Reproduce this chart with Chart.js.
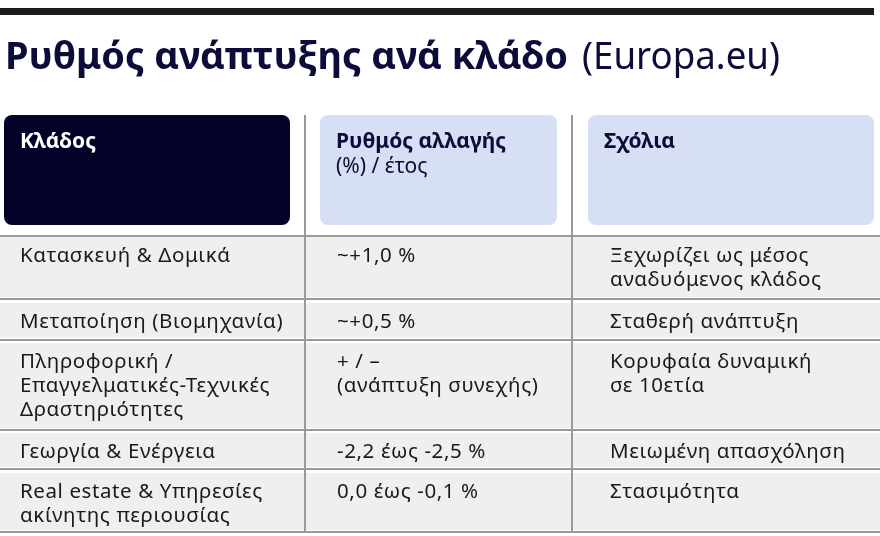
<!DOCTYPE html>
<html><head><meta charset="utf-8">
<script src="https://cdn.jsdelivr.net/npm/chart.js@4/dist/chart.umd.min.js"></script>
<style>html,body{margin:0;background:#fff}#wrap{width:880px;height:536px}</style>
</head><body><div id="wrap"><canvas id="c"></canvas></div>
<script>
const title = 'Ρυθμός ανάπτυξης ανά κλάδο';
const titleSource = '(Europa.eu)';
const headers = [['Κλάδος'], ['Ρυθμός αλλαγής', '(%) / έτος'], ['Σχόλια']];
const sectors = [
  ['Κατασκευή & Δομικά'],
  ['Μεταποίηση (Βιομηχανία)'],
  ['Πληροφορική /', 'Επαγγελματικές-Τεχνικές', 'Δραστηριότητες'],
  ['Γεωργία & Ενέργεια'],
  ['Real estate & Υπηρεσίες', 'ακίνητης περιουσίας']
];
const rates = [['~+1,0 %'], ['~+0,5 %'], ['+ / –', '(ανάπτυξη συνεχής)'], ['-2,2 έως -2,5 %'], ['0,0 έως -0,1 %']];
const comments = [
  ['Ξεχωρίζει ως μέσος', 'αναδυόμενος κλάδος'],
  ['Σταθερή ανάπτυξη'],
  ['Κορυφαία δυναμική', 'σε 10ετία'],
  ['Μειωμένη απασχόληση'],
  ['Στασιμότητα']
];

// layout (scale units = px of the 880x536 frame)
const colBounds = [[4, 290], [320, 557], [588, 874]];
const dividers = [305, 572];
const rowBounds = [[237, 297], [303, 338], [343, 428], [433, 467], [473, 530]];
const headTop = 115, headBottom = 225;

const tablePlugin = {
  id: 'table',
  afterDraw(chart) {
    const { ctx, scales: { x, y } } = chart;
    const X = v => x.getPixelForValue(v), Y = v => y.getPixelForValue(v);
    ctx.save();
    ctx.fillStyle = '#1b1b1b';
    ctx.fillRect(X(0), Y(8), X(874) - X(0), Y(15) - Y(8));
    ctx.textBaseline = 'alphabetic';
    ctx.fillStyle = '#0c0c3a';
    ctx.font = 'bold 38px "Noto Sans"';
    ctx.fillText(title, X(5), Y(69), X(568) - X(5));
    ctx.font = '38px "Noto Sans"';
    ctx.fillText(titleSource, X(582), Y(69), X(780) - X(582));

    // header cells
    const headFill = ['#03032a', '#d6dff3', '#d6dff3'];
    colBounds.forEach(([a, b], i) => {
      ctx.fillStyle = headFill[i];
      ctx.beginPath();
      ctx.roundRect(X(a), Y(headTop), X(b) - X(a), Y(headBottom) - Y(headTop), 8);
      ctx.fill();
      ctx.fillStyle = i === 0 ? '#fff' : '#0c0c3a';
      headers[i].forEach((t, k) => {
        ctx.font = (k === 0 ? 'bold ' : '') + '21px "Noto Sans"';
        ctx.fillText(t, X(a + 16), Y(headTop + 33 + k * 25));
      });
    });

    // rows
    const cols = [sectors, rates, comments];
    const textX = [20, 337, 610];
    ctx.letterSpacing = '0.6px';
    rowBounds.forEach(([t, b], r) => {
      ctx.fillStyle = '#efefef';
      ctx.fillRect(X(0), Y(t), X(880) - X(0), Y(b) - Y(t));
      ctx.fillStyle = '#999';
      ctx.fillRect(X(0), Y(b + 1), X(880) - X(0), 2);
      ctx.fillStyle = '#1a1a1a';
      ctx.font = '20.5px "Noto Sans"';
      cols.forEach((col, c) => {
        col[r].forEach((line, k) => {
          ctx.fillText(line, X(textX[c]), Y(t + 25 + k * 24));
        });
      });
    });
    ctx.fillStyle = '#999';
    ctx.fillRect(X(0), Y(235), X(880) - X(0), 2);
    dividers.forEach(d => ctx.fillRect(X(d) - 1, Y(headTop), 2, Y(532) - Y(headTop)));
    ctx.restore();
  }
};

new Chart(document.getElementById('c'), {
  type: 'scatter',
  data: { datasets: [{ data: [] }] },
  options: {
    responsive: true, maintainAspectRatio: false, animation: false,
    layout: { padding: 0 },
    plugins: { legend: { display: false }, tooltip: { enabled: false } },
    scales: {
      x: { type: 'linear', min: 0, max: 880, display: false },
      y: { type: 'linear', min: 0, max: 536, reverse: true, display: false }
    }
  },
  plugins: [tablePlugin]
});
</script></body></html>
